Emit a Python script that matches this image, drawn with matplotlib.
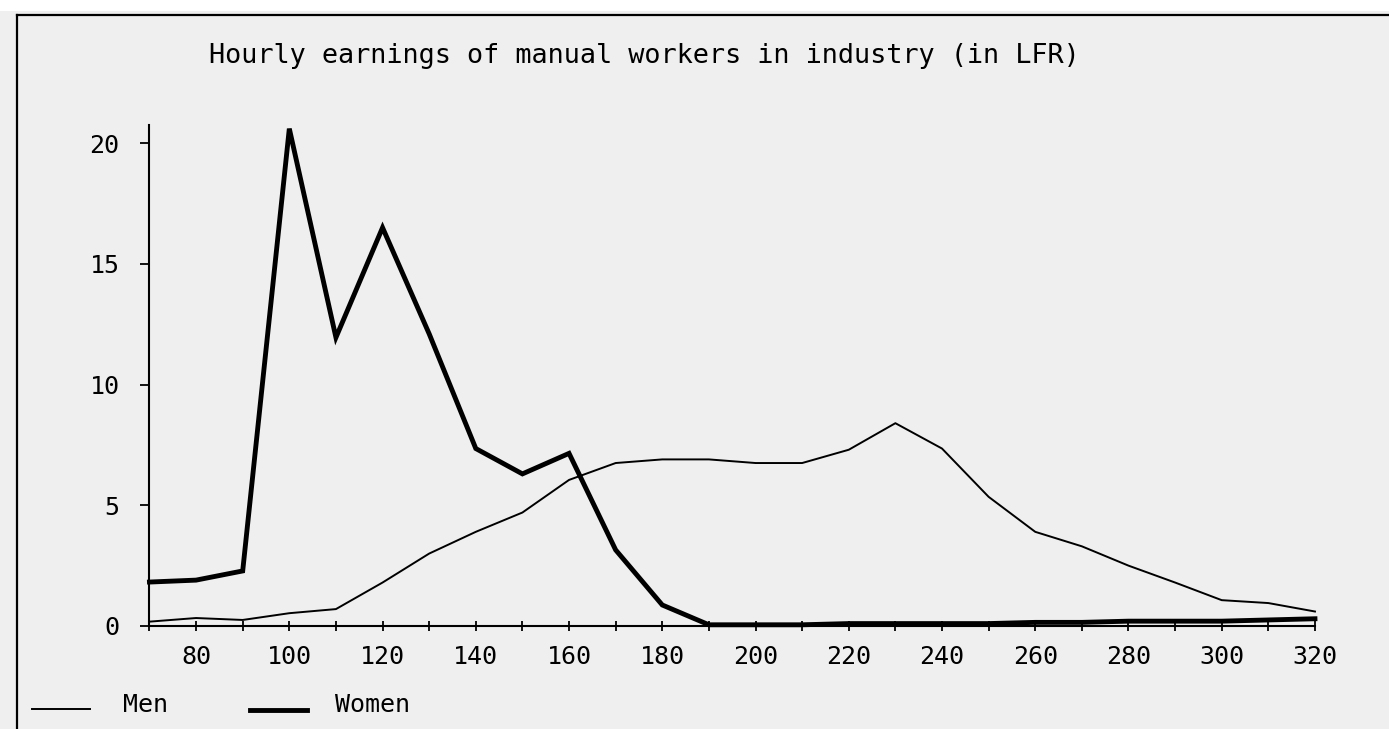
import matplotlib
matplotlib.use("Agg")
import matplotlib.pyplot as plt
from matplotlib.lines import Line2D
from matplotlib.patches import Rectangle
from matplotlib.ticker import MultipleLocator

# hourly earnings classes (LFR) and share of workers (%)
earnings = [70, 80, 90, 100, 110, 120, 130, 140, 150, 160, 170, 180, 190,
            200, 210, 220, 230, 240, 250, 260, 270, 280, 290, 300, 310, 320]
men = [0.18, 0.33, 0.25, 0.53, 0.7, 1.8, 3.0, 3.9, 4.7, 6.05, 6.75, 6.9, 6.9,
       6.75, 6.75, 7.3, 8.4, 7.35, 5.35, 3.9, 3.3, 2.5, 1.8, 1.07, 0.95, 0.6]
women = [1.82, 1.9, 2.28, 20.6, 11.95, 16.5, 12.1, 7.35, 6.3, 7.15, 3.15, 0.87, 0.05,
         0.05, 0.05, 0.1, 0.1, 0.1, 0.1, 0.15, 0.15, 0.2, 0.2, 0.2, 0.25, 0.3]
x_ticks = [80, 100, 120, 140, 160, 180, 200, 220, 240, 260, 280, 300, 320]
y_ticks = [0, 5, 10, 15, 20]

title = "Hourly earnings of manual workers in industry (in LFR)"
bg = "#efefef"
font = "DejaVu Sans Mono"

plt.rcParams["font.family"] = [font]

fig = plt.figure(figsize=(13.89, 7.29), dpi=100)
fig.patch.set_facecolor(bg)

# white strip above the frame
fig.add_artist(Rectangle((0, 0.985), 1, 0.015, transform=fig.transFigure,
                         facecolor="white", edgecolor="none"))
# frame lines (top and left)
fig.add_artist(Line2D([0.0122, 1.0], [0.979, 0.979], transform=fig.transFigure,
                      color="black", lw=1.6))
fig.add_artist(Line2D([0.0122, 0.0122], [0.0, 0.979], transform=fig.transFigure,
                      color="black", lw=1.6))

ax = fig.add_axes([0.1076, 0.1413, 0.8391, 0.6872])
ax.set_facecolor(bg)

ax.plot(earnings, men, color="black", lw=1.4, clip_on=False)
ax.plot(earnings, women, color="black", lw=3.5, clip_on=False,
        solid_joinstyle="miter")

ax.set_xlim(70, 320)
ax.set_ylim(0, 20.75)

for side in ["top", "right"]:
    ax.spines[side].set_visible(False)
for side in ["left", "bottom"]:
    ax.spines[side].set_linewidth(1.5)

ax.set_xticks(x_ticks)
ax.set_xticklabels([str(v) for v in x_ticks])
ax.xaxis.set_minor_locator(MultipleLocator(10))
ax.set_yticks(y_ticks)
ax.set_yticklabels([str(v) for v in y_ticks])

ax.tick_params(axis="x", which="both", direction="inout", length=7, width=1.3,
               pad=10, labelsize=18)
ax.tick_params(axis="y", which="both", direction="out", length=6.5, width=1.3,
               pad=15, labelsize=18)

fig.text(0.464, 0.9136, title, ha="center", va="baseline", fontsize=19.4)

# legend drawn by hand at the bottom
fig.add_artist(Line2D([32 / 1389, 90 / 1389], [1 - 709 / 729] * 2,
                      transform=fig.transFigure, color="black", lw=1.4))
fig.text(123 / 1389, 1 - 705 / 729, "Men", ha="left", va="center", fontsize=18)
fig.add_artist(Line2D([250 / 1389, 307 / 1389], [1 - 710 / 729] * 2,
                      transform=fig.transFigure, color="black", lw=3.5))
fig.text(335 / 1389, 1 - 705 / 729, "Women", ha="left", va="center", fontsize=18)

fig.savefig("out.png", dpi=100, facecolor=fig.get_facecolor())
